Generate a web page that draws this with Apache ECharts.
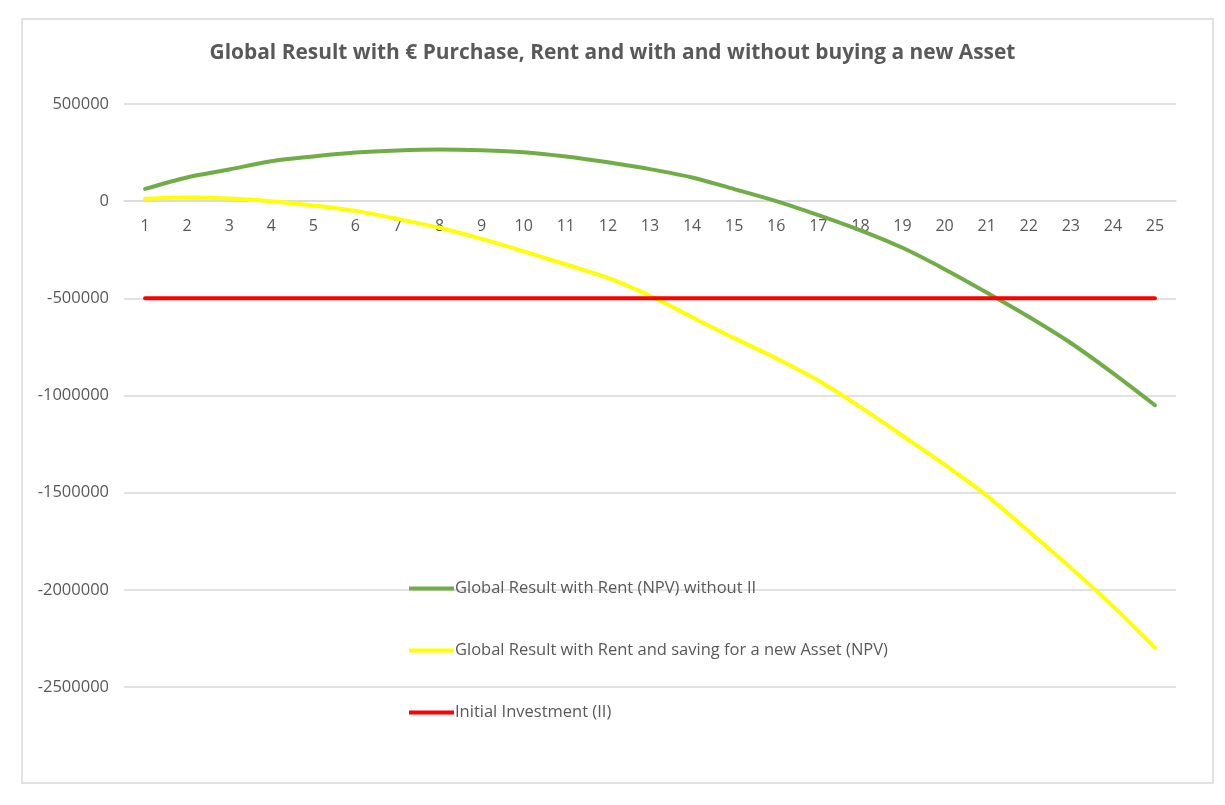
<!DOCTYPE html>
<html>
<head>
<meta charset="utf-8">
<script src="https://cdn.jsdelivr.net/npm/echarts@6/dist/echarts.min.js"></script>
<style>
html,body{margin:0;padding:0;background:#fff;}
#chart{width:1225px;height:805px;}
</style>
</head>
<body>
<div id="chart"></div>
<script>
const categories = ['1','2','3','4','5','6','7','8','9','10','11','12','13','14','15','16','17','18','19','20','21','22','23','24','25'];
const rentWithoutII = [63000,122000,163000,205000,230000,250000,261000,266000,262000,252000,230000,200000,165000,122000,62000,0,-72000,-150000,-240000,-350000,-470000,-595000,-730000,-885000,-1050000];
const rentSavingNewAsset = [12000,19000,14000,0,-22000,-50000,-91000,-137000,-194000,-258000,-326000,-395000,-487000,-597000,-705000,-808000,-923000,-1060000,-1207000,-1356000,-1515000,-1699000,-1887000,-2084000,-2298000];
const initialInvestment = [-500000,-500000,-500000,-500000,-500000,-500000,-500000,-500000,-500000,-500000,-500000,-500000,-500000,-500000,-500000,-500000,-500000,-500000,-500000,-500000,-500000,-500000,-500000,-500000,-500000];
const seriesNames = ['Global Result with Rent (NPV) without II','Global Result with Rent and saving for a new Asset (NPV)','Initial Investment (II)'];
const titleText = 'Global Result with € Purchase, Rent and with and without buying a new Asset';

const chart = echarts.init(document.getElementById('chart'));
const font = '"Open Sans", "Noto Sans", sans-serif';
const txt = '#595959';
chart.setOption({
  animation: false,
  backgroundColor: '#fff',
  textStyle: {fontFamily: font},
  graphic: [{
    type: 'rect', silent: true, z: -1,
    shape: {x: 22, y: 19, width: 1191, height: 764},
    style: {fill: 'none', stroke: '#d9d9d9', lineWidth: 1.5}
  }],
  title: {
    text: titleText,
    left: 'center', top: 38,
    textStyle: {fontFamily: font, fontSize: 20.9, fontWeight: 'bold', color: txt}
  },
  grid: {left: 124, right: 49, top: 104, bottom: 118, containLabel: false},
  legend: {
    orient: 'vertical',
    left: 404, top: 575,
    itemWidth: 45, itemHeight: 4, itemGap: 45,
    icon: 'rect',
    data: seriesNames,
    textStyle: {fontFamily: font, fontSize: 16.5, color: txt, padding: [0,0,0,-4]}
  },
  xAxis: {
    type: 'category',
    data: categories,
    boundaryGap: true,
    offset: -486,
    axisLine: {show: true, onZero: false, lineStyle: {color: '#d9d9d9', width: 1.5}},
    axisTick: {show: false},
    axisLabel: {fontFamily: font, fontSize: 16, color: txt, margin: 17},
    splitLine: {show: false}
  },
  yAxis: {
    type: 'value',
    min: -2500000, max: 500000, interval: 500000,
    axisLine: {show: false},
    axisTick: {show: false},
    axisLabel: {fontFamily: font, fontSize: 16.5, color: txt, margin: 15, formatter: v => String(v)},
    splitLine: {lineStyle: {color: '#d9d9d9', width: 1.5}}
  },
  series: [
    {name: seriesNames[0], type: 'line', data: rentWithoutII, smooth: 0.3, showSymbol: false, symbol: 'none',
     lineStyle: {color: '#70AD47', width: 4, cap: 'round'}, itemStyle: {color: '#70AD47'}},
    {name: seriesNames[1], type: 'line', data: rentSavingNewAsset, smooth: 0.3, showSymbol: false, symbol: 'none',
     lineStyle: {color: '#FFFF00', width: 4, cap: 'round'}, itemStyle: {color: '#FFFF00'}},
    {name: seriesNames[2], type: 'line', data: initialInvestment, smooth: 0.3, showSymbol: false, symbol: 'none',
     lineStyle: {color: '#FF0000', width: 4, cap: 'round'}, itemStyle: {color: '#FF0000'}}
  ]
});
</script>
</body>
</html>
